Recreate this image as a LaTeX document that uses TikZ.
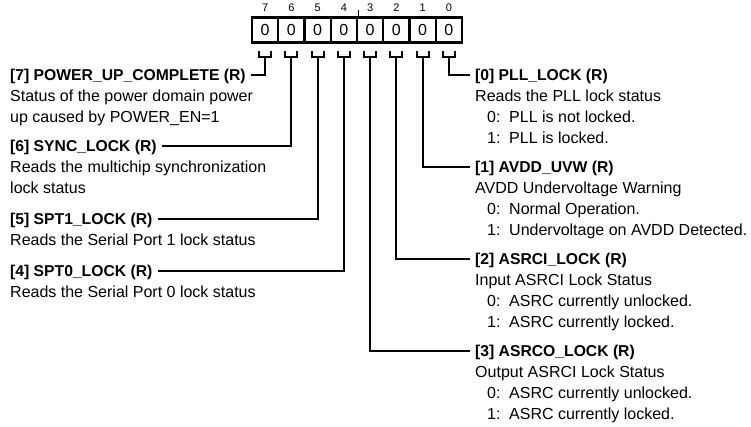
\documentclass[tikz,border=0pt]{standalone}
\usepackage{fontspec}
\setmainfont{Liberation Sans}
\usetikzlibrary{positioning, calc}
\definecolor{regblack}{HTML}{000000}
\tikzset{
  % Register bit cells
  cell/.style={
    draw=regblack, fill=white, line width=2.4pt,
    minimum width=26.25pt, minimum height=25pt, inner sep=0pt,
    font=\fontsize{16}{19}\selectfont,
  },
  bitnum/.style={font=\fontsize{11}{13}\selectfont, inner sep=0pt},
  % Field labels
  fieldname/.style={
    font=\fontsize{15.7}{19}\selectfont\bfseries,
    inner xsep=5pt, inner ysep=0pt, text height=13pt, text depth=2pt,
  },
  fielddesc/.style={
    font=\fontsize{16}{21}\selectfont, align=left,
    inner xsep=5pt, inner ysep=0pt,
  },
  % Connectors
  wire/.style={line width=1.8pt, regblack},
  midtick/.style={line width=1.2pt, regblack},
}
\newcommand{\valrow}[2]{\hspace*{12pt}\makebox[22pt][l]{#1}#2}

\begin{document}
\begin{tikzpicture}[x=1pt, y=1pt]
  \useasboundingbox (0,0) rectangle (751,-426);
  % register, MSB first
  \foreach \b [count=\k from 0] in {7,...,0} {
    \node[cell] (r\b) at (265.125+26.25*\k, -30) {0};
    \node[bitnum, above=4.5pt of r\b] (n\b) {\b};
    \draw[wire] ($(r\b.south)+(-6,-7.5)$) -- ++(0,-5.5) -- ++(12,0) -- ++(0,5.5);
    \coordinate (s\b) at ($(r\b.south)+(0,-13)$);
  }
  \draw[midtick] (r4.north east) -- ++(0,6);

  % left column
  \node[fieldname, anchor=west] (t7) at (5,-75) {[7] POWER\_UP\_COMPLETE (R)};
  \node[fielddesc, below right=0pt and 0pt of t7.south west] (d7)
    {\rule{0pt}{19pt}Status of the power domain power\\ up caused by POWER\_EN=1};
  \node[fieldname, anchor=west] (t6) at (5,-146) {[6] SYNC\_LOCK (R)};
  \node[fielddesc, below right=0pt and 0pt of t6.south west] (d6)
    {\rule{0pt}{19pt}Reads the multichip synchronization\\ lock status};
  \node[fieldname, anchor=west] (t5) at (5,-219) {[5] SPT1\_LOCK (R)};
  \node[fielddesc, below right=0pt and 0pt of t5.south west] (d5)
    {\rule{0pt}{19pt}Reads the Serial Port 1 lock status};
  \node[fieldname, anchor=west] (t4) at (5,-271) {[4] SPT0\_LOCK (R)};
  \node[fielddesc, below right=0pt and 0pt of t4.south west] (d4)
    {\rule{0pt}{19pt}Reads the Serial Port 0 lock status};

  % right column
  \node[fieldname, anchor=west] (t0) at (470,-75) {[0] PLL\_LOCK (R)};
  \node[fielddesc, below right=0pt and 0pt of t0.south west] (d0)
    {\rule{0pt}{19pt}Reads the PLL lock status\\
     \valrow{0:}{PLL is not locked.}\\ \valrow{1:}{PLL is locked.}};
  \node[fieldname, anchor=west] (t1) at (470,-167) {[1] AVDD\_UVW (R)};
  \node[fielddesc, below right=0pt and 0pt of t1.south west] (d1)
    {\rule{0pt}{19pt}AVDD Undervoltage Warning\\
     \valrow{0:}{Normal Operation.}\\ \valrow{1:}{Undervoltage on AVDD Detected.}};
  \node[fieldname, anchor=west] (t2) at (470,-259) {[2] ASRCI\_LOCK (R)};
  \node[fielddesc, below right=0pt and 0pt of t2.south west] (d2)
    {\rule{0pt}{19pt}Input ASRCI Lock Status\\
     \valrow{0:}{ASRC currently unlocked.}\\ \valrow{1:}{ASRC currently locked.}};
  \node[fieldname, anchor=west] (t3) at (470,-351) {[3] ASRCO\_LOCK (R)};
  \node[fielddesc, below right=0pt and 0pt of t3.south west] (d3)
    {\rule{0pt}{19pt}Output ASRCI Lock Status\\
     \valrow{0:}{ASRC currently unlocked.}\\ \valrow{1:}{ASRC currently locked.}};

  % bit connectors
  \foreach \b in {7,6,5,4} \draw[wire] (s\b) |- (t\b.east);
  \foreach \b in {3,...,0} \draw[wire] (s\b) |- (t\b.west);
\end{tikzpicture}
\end{document}
